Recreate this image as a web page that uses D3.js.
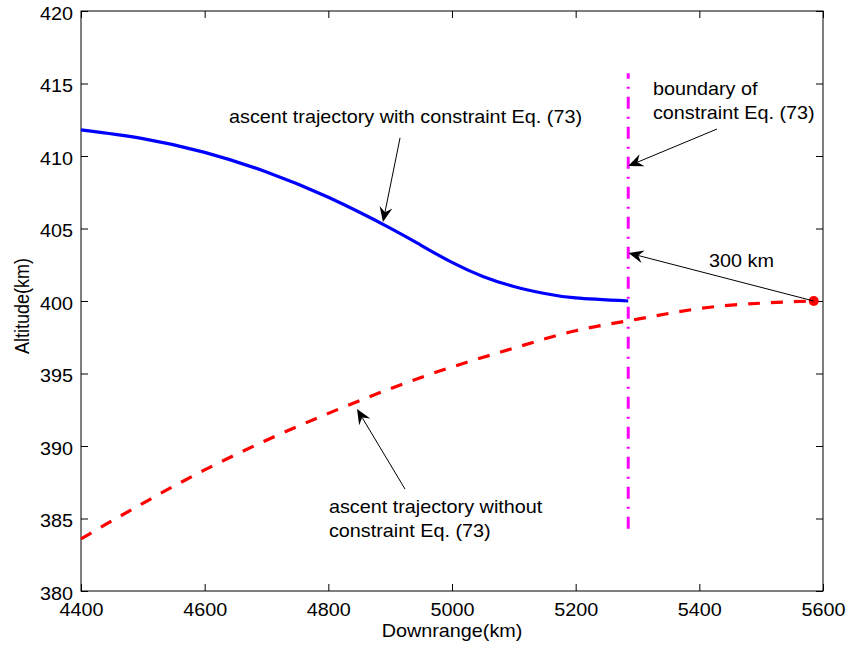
<!DOCTYPE html>
<html>
<head>
<meta charset="utf-8">
<script src="https://cdn.jsdelivr.net/npm/d3@7"></script>
<style>
  html, body { margin: 0; padding: 0; background: #fff; }
  svg { display: block; }
  text { font-family: "Liberation Sans", Arial, Helvetica, sans-serif; fill: #000; }
</style>
</head>
<body>
<svg id="chart" width="849" height="648"></svg>
<script>
// Downrange (km) samples of each trajectory
const withConstraintX = [4400, 4500, 4600, 4700, 4800, 4900, 4950, 5000, 5050, 5100, 5150, 5200, 5285];
const withConstraintY = [411.8, 411.2, 410.25, 408.9, 407.15, 405.03, 403.84, 402.66, 401.69, 401.0, 400.52, 400.21, 400.0];

const withoutConstraintX = [4400, 4500, 4600, 4700, 4800, 4900, 5000, 5100, 5200, 5300, 5400, 5500, 5585];
const withoutConstraintY = [383.6, 386.05, 388.35, 390.4, 392.25, 393.95, 395.45, 396.75, 397.95, 398.75, 399.48, 399.85, 400.0];

// Constraint boundary (vertical line) and the terminal point
const boundaryX = [5285, 5285];
const boundaryY = [384.3, 415.7];
const terminalPoint = [5585, 400];

// Axis ticks
const xTicks = [4400, 4600, 4800, 5000, 5200, 5400, 5600];
const yTicks = [380, 385, 390, 395, 400, 405, 410, 415, 420];

// Annotations: text anchor and arrow (tail -> tip), in data units
const notes = [
  { lines: ["ascent trajectory with constraint Eq. (73)"], at: [4639.4, 412.3],
    tail: [4916, 411.25], tip: [4888.4, 405.45] },
  { lines: ["boundary of", "constraint Eq. (73)"], at: [5325, 414.2],
    tail: [5428.6, 411.86], tip: [5285, 409.31] },
  { lines: ["300 km"], at: [5415.7, 402.36],
    tail: [5585, 400], tip: [5285.5, 403.31] },
  { lines: ["ascent trajectory without", "constraint Eq. (73)"], at: [4801, 385.38],
    tail: [4924, 387.03], tip: [4846.4, 392.55] }
];

const svg = d3.select("#chart");
const FONT = 18;      // px
const SX = 1.1;       // horizontal glyph scaling
const LINE_GAP = 24;  // px between annotation lines

const x = d3.scaleLinear().domain([4400, 5600]).range([81, 823]);
const y = d3.scaleLinear().domain([380, 420]).range([591, 11]);

// Axes with inward ticks on all four sides
const TICK = 7;
const gB = svg.append("g").attr("transform", `translate(0,${y(380)})`)
  .call(d3.axisBottom(x).tickValues(xTicks).tickFormat(d3.format("d"))
    .tickSizeInner(-TICK).tickSizeOuter(0).tickPadding(12));
const gT = svg.append("g").attr("transform", `translate(0,${y(420)})`)
  .call(d3.axisTop(x).tickValues(xTicks).tickFormat("")
    .tickSizeInner(-TICK).tickSizeOuter(0));
const gL = svg.append("g").attr("transform", `translate(${x(4400)},0)`)
  .call(d3.axisLeft(y).tickValues(yTicks).tickFormat(d3.format("d"))
    .tickSizeInner(-TICK).tickSizeOuter(0).tickPadding(7.3));
const gR = svg.append("g").attr("transform", `translate(${x(5600)},0)`)
  .call(d3.axisRight(y).tickValues(yTicks).tickFormat("")
    .tickSizeInner(-TICK).tickSizeOuter(0));

[gB, gT, gL, gR].forEach(g => {
  g.select(".domain").remove();
  g.selectAll(".tick line").attr("stroke", "#000").attr("stroke-width", 1);
  g.selectAll(".tick text")
    .attr("font-size", FONT)
    .attr("font-family", "Liberation Sans, Arial, sans-serif")
    .attr("fill", "#000")
    .attr("transform", `scale(${SX},1)`);
});
gL.selectAll(".tick text").attr("dy", "0.45em");

// Frame
svg.append("rect")
  .attr("x", x(4400)).attr("y", y(420))
  .attr("width", x(5600) - x(4400)).attr("height", y(380) - y(420))
  .attr("fill", "none").attr("stroke", "#000").attr("stroke-width", 1);

const line = d3.line().x(d => x(d[0])).y(d => y(d[1])).curve(d3.curveNatural);

// Trajectory with the constraint (solid blue)
svg.append("path")
  .datum(d3.zip(withConstraintX, withConstraintY))
  .attr("d", line)
  .attr("fill", "none").attr("stroke", "#0000ff").attr("stroke-width", 3.2);

// Trajectory without the constraint (dashed red)
svg.append("path")
  .datum(d3.zip(withoutConstraintX, withoutConstraintY))
  .attr("d", line)
  .attr("fill", "none").attr("stroke", "#ff0000").attr("stroke-width", 3.2)
  .attr("stroke-dasharray", "12,11");

// Constraint boundary (dash-dot magenta)
svg.append("path")
  .datum(d3.zip(boundaryX, boundaryY))
  .attr("d", d3.line().x(d => x(d[0])).y(d => y(d[1])))
  .attr("fill", "none").attr("stroke", "#ff00ff").attr("stroke-width", 3)
  .attr("stroke-dasharray", "12,8,2,8");

// Terminal point
svg.append("circle")
  .attr("cx", x(terminalPoint[0])).attr("cy", y(terminalPoint[1]))
  .attr("r", 5).attr("fill", "#ff0000");

// Text helper with horizontal glyph scaling
function label(px, py, str, rotate) {
  return svg.append("text")
    .attr("transform", `translate(${px},${py}) scale(${SX},1)` + (rotate ? ` rotate(${rotate})` : ""))
    .attr("font-size", FONT)
    .text(str);
}

// Annotations
const HEAD_LEN = 15, HEAD_HALF = 6.5, HEAD_NOTCH = 10;
notes.forEach(n => {
  n.lines.forEach((s, i) => label(x(n.at[0]), y(n.at[1]) + i * LINE_GAP, s));
  const tx = x(n.tail[0]), ty = y(n.tail[1]);
  const hx = x(n.tip[0]), hy = y(n.tip[1]);
  const len = Math.hypot(hx - tx, hy - ty);
  const ux = (hx - tx) / len, uy = (hy - ty) / len;
  const px = -uy, py = ux;
  svg.append("line")
    .attr("x1", tx).attr("y1", ty)
    .attr("x2", hx - ux * HEAD_NOTCH).attr("y2", hy - uy * HEAD_NOTCH)
    .attr("stroke", "#000").attr("stroke-width", 1);
  const bx = hx - ux * HEAD_LEN, by = hy - uy * HEAD_LEN;
  const nx = hx - ux * HEAD_NOTCH, ny = hy - uy * HEAD_NOTCH;
  svg.append("path")
    .attr("d", `M${hx},${hy}L${bx + px * HEAD_HALF},${by + py * HEAD_HALF}L${nx},${ny}L${bx - px * HEAD_HALF},${by - py * HEAD_HALF}Z`)
    .attr("fill", "#000");
});

// Axis titles
label((x(4400) + x(5600)) / 2, 637, "Downrange(km)").attr("text-anchor", "middle");
label(29, 306, "Altitude(km)", -90).attr("text-anchor", "middle");
</script>
</body>
</html>
